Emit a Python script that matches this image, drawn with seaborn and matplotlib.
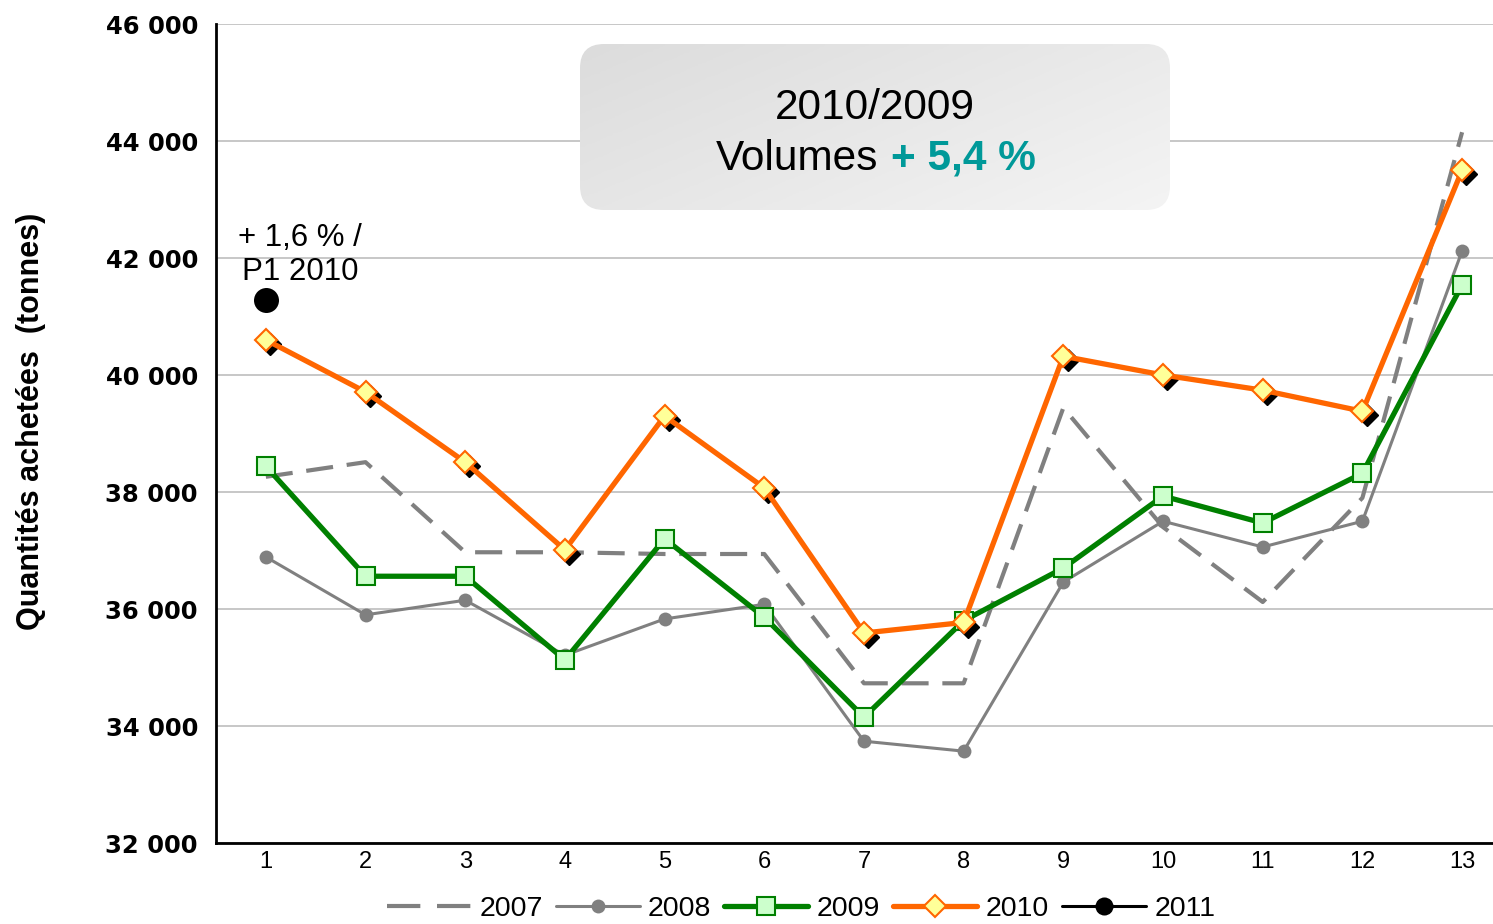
import numpy as np
import pandas as pd
import matplotlib
matplotlib.use("Agg")
import matplotlib.pyplot as plt
import matplotlib.transforms as mtransforms
from matplotlib.lines import Line2D
from matplotlib.patches import FancyBboxPatch
from matplotlib.colors import LinearSegmentedColormap
import seaborn as sns

# périodes (4 semaines) et quantités achetées en tonnes
periodes = list(range(1, 14))
v2007 = [38260, 38510, 36970, 36970, 36940, 36940, 34730, 34730, 39440, 37400, 36120, 37900, 44150]
v2008 = [36890, 35900, 36150, 35210, 35830, 36080, 33740, 33570, 36460, 37500, 37060, 37500, 42120]
v2009 = [38440, 36560, 36560, 35130, 37200, 35860, 34150, 35800, 36700, 37930, 37470, 38320, 41540]
v2010 = [40600, 39710, 38510, 37010, 39300, 38070, 35590, 35770, 40320, 40000, 39740, 39380, 43500]
periodes_2011 = [1]
v2011 = [41280]

yticks = list(range(32000, 46001, 2000))
annees = ["2007", "2008", "2009", "2010", "2011"]

sns.set_theme(style="white")
plt.rcParams["font.family"] = ["Liberation Sans", "DejaVu Sans"]
plt.rcParams["text.color"] = "black"
plt.rcParams["xtick.color"] = "black"
plt.rcParams["ytick.color"] = "black"
plt.rcParams["axes.labelcolor"] = "black"

fig = plt.figure(figsize=(14.93, 9.24), dpi=100)
ax = fig.add_axes([216 / 1493, 1 - 843 / 924, 1 - 216 / 1493, (843 - 24) / 924])

gris = "#808080"
vert = "#008000"
orange = "#ff6600"

sns.lineplot(x=periodes, y=v2007, ax=ax, color=gris, linewidth=3, dashes=False,
             linestyle=(0, (6.5, 3.3)), zorder=3, legend=False)
sns.lineplot(x=periodes, y=v2008, ax=ax, color=gris, linewidth=2.2, marker="o",
             markersize=10, markerfacecolor=gris, markeredgecolor=gris,
             markeredgewidth=0, zorder=4, legend=False)
sns.lineplot(x=periodes, y=v2009, ax=ax, color=vert, linewidth=3.8, marker="s",
             markersize=12.5, markerfacecolor="#ccffcc", markeredgecolor=vert,
             markeredgewidth=1.5, zorder=5, legend=False)

# ombre noire sous les losanges 2010
ombre = mtransforms.offset_copy(ax.transData, fig=fig, x=3, y=-3, units="points")
ax.plot(periodes, v2010, linestyle="none", marker="D", markersize=11,
        color="black", transform=ombre, zorder=6)
sns.lineplot(x=periodes, y=v2010, ax=ax, color=orange, linewidth=3.8, marker="D",
             markersize=11, markerfacecolor="#ffff99", markeredgecolor=orange,
             markeredgewidth=1.5, zorder=7, legend=False)
sns.lineplot(x=periodes_2011, y=v2011, ax=ax, color="black", linewidth=2.2, marker="o",
             markersize=18, markerfacecolor="black", markeredgecolor="black",
             markeredgewidth=0, zorder=8, legend=False)

ax.annotate("+ 1,6 % /\nP1 2010", xy=(periodes_2011[0], v2011[0]),
            xytext=(24.5, 32.5), textcoords="offset points", ha="center", va="center",
            multialignment="center", fontsize=22.5, linespacing=1.2, color="black")

ax.set_yticks(yticks)
ax.set_yticklabels([f"{v // 1000} 000" for v in yticks], fontsize=17.5,
                   fontweight="bold", family="DejaVu Sans", color="black")
ax.set_xticks(np.arange(0.5, 13.6, 1))
ax.set_xticklabels([])
ax.set_xticks(periodes, minor=True)
ax.set_xticklabels([str(p) for p in periodes], minor=True, fontsize=17, color="black")
ax.set_xlim(0.5, 13.31)
ax.set_ylim(32000, 46000)
ax.tick_params(axis="x", which="major", direction="out", length=6, width=1.5, color="black")
ax.tick_params(axis="x", which="minor", length=0, pad=6)
ax.tick_params(axis="y", direction="out", length=9, width=1.5, color="black", pad=4)

ax.grid(axis="y", color="#b8b8b8", linewidth=1.1)
ax.set_axisbelow(True)
for s in ["top", "right"]:
    ax.spines[s].set_visible(False)
for s in ["left", "bottom"]:
    ax.spines[s].set_color("black")
    ax.spines[s].set_linewidth(2)

ax.set_xlabel("")
ax.set_ylabel("Quantités achetées  (tonnes)", fontsize=22, fontweight="bold",
              family=["Liberation Sans Narrow", "Liberation Sans"], color="black")
ax.yaxis.set_label_coords(-0.133, 0.515)

# encadré avec dégradé
bx, by, bw, bh = 580, 44, 590, 166
box_ax = fig.add_axes([bx / 1493, 1 - (by + bh) / 924, bw / 1493, bh / 924])
box_ax.axis("off")
box_ax.set_xlim(0, bw)
box_ax.set_ylim(0, bh)
degrade = LinearSegmentedColormap.from_list("deg", ["#dcdcdc", "#f4f4f4"])
gx, gy = np.meshgrid(np.linspace(0, 1, 200), np.linspace(0, 1, 60))
grad = (gx * 0.6 + gy * 0.4)
im = box_ax.imshow(grad, cmap=degrade, extent=(0, bw, 0, bh), aspect="auto", origin="upper")
cadre = FancyBboxPatch((0, 0), bw, bh, boxstyle="round,pad=0,rounding_size=24",
                       transform=box_ax.transData, facecolor="none", edgecolor="none")
box_ax.add_patch(cadre)
im.set_clip_path(cadre)

fig.text(875 / 1493, 1 - 119 / 924, "2010/2009", ha="center", va="baseline",
         fontsize=30.5, color="black")
fig.text(878 / 1493, 1 - 170 / 924, "Volumes", ha="right", va="baseline",
         fontsize=30.5, color="black")
fig.text(891 / 1493, 1 - 170 / 924, "+ 5,4 %", ha="left", va="baseline",
         fontsize=30.5, color="#009999", fontweight="bold")

handles = [
    Line2D([], [], color=gris, linewidth=3, linestyle=(0, (8, 4))),
    Line2D([], [], color=gris, linewidth=2.2, marker="o", markersize=10, markeredgewidth=0),
    Line2D([], [], color=vert, linewidth=3.8, marker="s", markersize=12.5,
           markerfacecolor="#ccffcc", markeredgecolor=vert, markeredgewidth=1.5),
    Line2D([], [], color=orange, linewidth=3.8, marker="D", markersize=11,
           markerfacecolor="#ffff99", markeredgecolor=orange, markeredgewidth=1.5),
    Line2D([], [], color="black", linewidth=2.2, marker="o", markersize=13, markeredgewidth=0),
]
fig.legend(handles, annees, loc="center", bbox_to_anchor=(0.5365, 1 - 909 / 924),
           ncol=5, frameon=False, fontsize=20.5, handlelength=2.95, handletextpad=0.3,
           columnspacing=0.45, borderpad=0)

plt.savefig("out.png", dpi=100)
plt.close()
